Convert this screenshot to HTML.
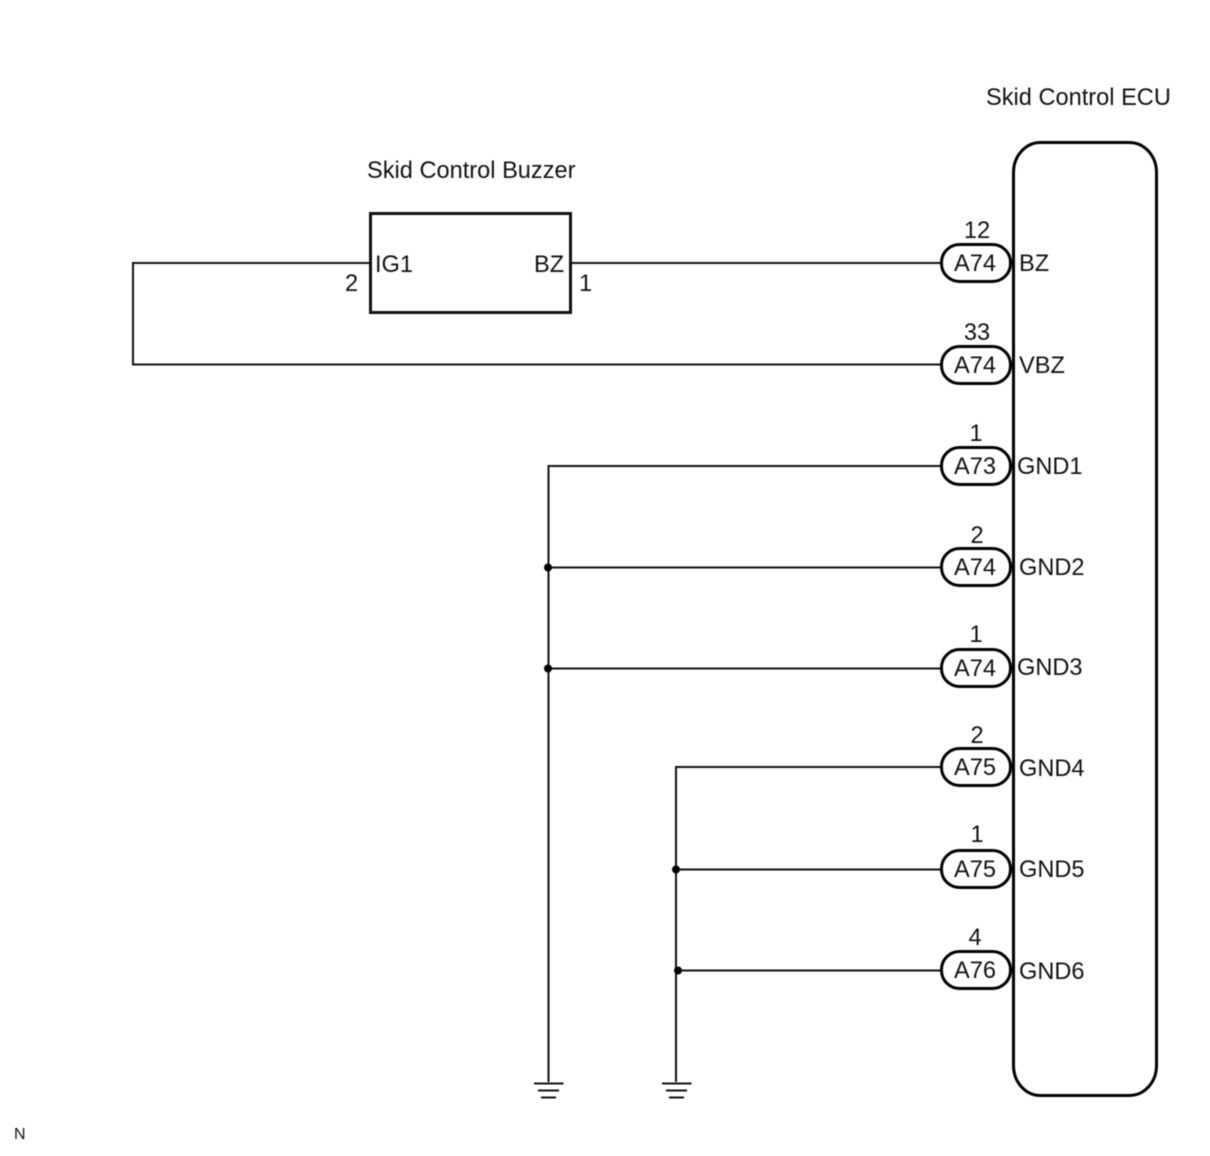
<!DOCTYPE html>
<html><head><meta charset="utf-8"><style>
html,body{margin:0;padding:0;background:#fff}
svg{display:block;filter:blur(0.45px)}
text{font-family:"Liberation Sans",Arial,sans-serif;font-size:23.6px;fill:#111}
.w{fill:none;stroke:#111;stroke-width:2}
.p{fill:#fff;stroke:#000;stroke-width:3}
.m{text-anchor:middle}
</style></head><body>
<svg width="1210" height="1156" viewBox="0 0 1210 1156" xmlns="http://www.w3.org/2000/svg">
<text x="986" y="105">Skid Control ECU</text>
<text x="367" y="178">Skid Control Buzzer</text>
<rect x="1013.500" y="142.500" width="143" height="953" rx="27" ry="30" class="p"/>
<rect x="370.500" y="213.500" width="200" height="99" fill="#fff" stroke="#111" stroke-width="3"/>
<path class="w" d="M370 263H133V364.500H942"/>
<path class="w" d="M570 263H942"/>
<path class="w" d="M942 466H548.500V1082"/>
<path class="w" d="M548 567.500H942M548 668.500H942"/>
<path class="w" d="M942 767H676V1082"/>
<path class="w" d="M676 869.500H942M678 970.500H942"/>
<circle cx="548" cy="567.500" r="4" fill="#000"/>
<circle cx="548" cy="668.500" r="4" fill="#000"/>
<circle cx="676" cy="869.500" r="4" fill="#000"/>
<circle cx="678" cy="970.500" r="4" fill="#000"/>
<path class="w" d="M534 1083.500H563.500M538 1090.500H559M541 1097.500H556"/>
<path class="w" d="M662 1083.500H691.500M666 1090.500H687M669 1097.500H684"/>
<g>
<rect x="941.500" y="244.500" width="69" height="37" rx="18" class="p"/>
<rect x="941.500" y="346.500" width="69" height="37" rx="18" class="p"/>
<rect x="941.500" y="447.500" width="69" height="37" rx="18" class="p"/>
<rect x="941.500" y="548.500" width="69" height="37" rx="18" class="p"/>
<rect x="941.500" y="649.500" width="69" height="37" rx="18" class="p"/>
<rect x="941.500" y="748.500" width="69" height="37" rx="18" class="p"/>
<rect x="941.500" y="850.500" width="69" height="37" rx="18" class="p"/>
<rect x="941.500" y="951.500" width="69" height="37" rx="18" class="p"/>
</g>
<text x="975" y="271" class="m">A74</text>
<text x="975" y="373" class="m">A74</text>
<text x="975" y="474" class="m">A73</text>
<text x="975" y="575" class="m">A74</text>
<text x="975" y="676" class="m">A74</text>
<text x="975" y="775" class="m">A75</text>
<text x="975" y="877" class="m">A75</text>
<text x="975" y="978" class="m">A76</text>
<text x="977" y="238" class="m">12</text>
<text x="977" y="340" class="m">33</text>
<text x="976" y="441" class="m">1</text>
<text x="977" y="543" class="m">2</text>
<text x="976" y="642" class="m">1</text>
<text x="977" y="743" class="m">2</text>
<text x="977" y="842" class="m">1</text>
<text x="975" y="945" class="m">4</text>
<text x="1019" y="271">BZ</text>
<text x="1019" y="373">VBZ</text>
<text x="1017" y="474">GND1</text>
<text x="1019" y="575">GND2</text>
<text x="1017" y="675">GND3</text>
<text x="1019" y="776">GND4</text>
<text x="1019" y="877">GND5</text>
<text x="1019" y="979">GND6</text>
<text x="375" y="272">IG1</text>
<text x="534" y="272">BZ</text>
<text x="345" y="291">2</text>
<text x="579" y="291">1</text>
<text x="14" y="1139" style="font-size:16px">N</text>
</svg>
</body></html>
